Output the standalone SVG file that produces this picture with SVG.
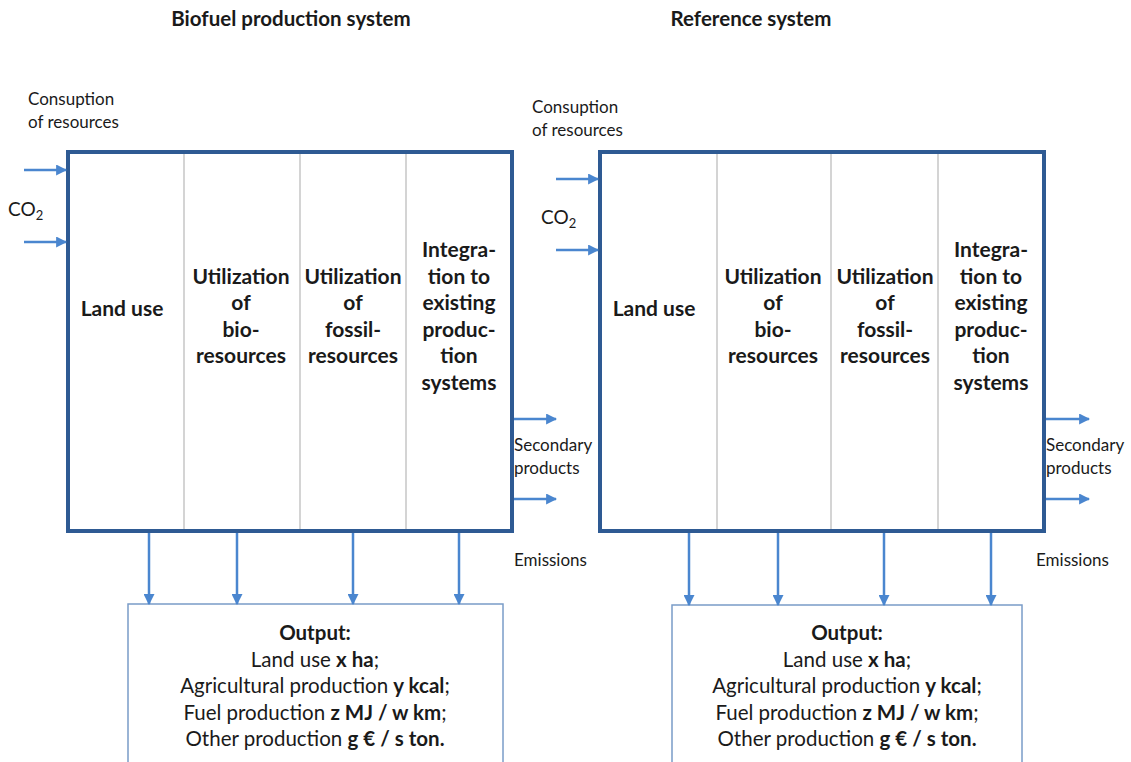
<svg xmlns="http://www.w3.org/2000/svg" width="1131" height="762" viewBox="0 0 1131 762">
  <defs>
    <marker id="ah" viewBox="0 0 10 10" refX="9" refY="5" markerWidth="11" markerHeight="11" markerUnits="userSpaceOnUse" orient="auto">
      <path d="M0,0 L10,5 L0,10 z" fill="#4a86cf"/>
    </marker>
    <style>
      text { font-family: Lato, "Open Sans", "Liberation Sans", sans-serif; fill: #1a1a1a; }
      .title { font-size: 20.5px; font-weight: bold; }
      .lbl { font-size: 17px; }
      .co2 { font-size: 19px; }
      .col { font-size: 21px; font-weight: bold; text-anchor: middle; }
      .out { font-size: 20.5px; text-anchor: middle; }
      .b { font-weight: bold; }
      .frame { fill: #fff; stroke: #2e5a93; stroke-width: 4; }
      .div { stroke: #b8b8b8; stroke-width: 1.2; }
      .obox { fill: #fff; stroke: #7a9cc8; stroke-width: 1.5; }
      .arr { stroke: #4a86cf; stroke-width: 2.5; fill: none; marker-end: url(#ah); }
    </style>
  </defs>

  <rect width="1131" height="762" fill="#fff"/>

  <!-- headings -->
  <text class="title" x="291" y="26" text-anchor="middle">Biofuel production system</text>
  <text class="title" x="751" y="26" text-anchor="middle">Reference system</text>

  <!-- Biofuel system main block -->
  <g id="bio-system">
    <rect class="frame" x="68" y="152" width="444" height="379"/>
    <line class="div" x1="184" y1="154" x2="184" y2="529"/>
    <line class="div" x1="300" y1="154" x2="300" y2="529"/>
    <line class="div" x1="406" y1="154" x2="406" y2="529"/>
    <text class="col" x="122" y="316">Land use</text>
    <text class="col" x="241" y="284">Utilization</text>
    <text class="col" x="241" y="310">of</text>
    <text class="col" x="241" y="337">bio-</text>
    <text class="col" x="241" y="363">resources</text>
    <text class="col" x="353" y="284">Utilization</text>
    <text class="col" x="353" y="310">of</text>
    <text class="col" x="353" y="337">fossil-</text>
    <text class="col" x="353" y="363">resources</text>
    <text class="col" x="459" y="257">Integra-</text>
    <text class="col" x="459" y="284">tion to</text>
    <text class="col" x="459" y="310">existing</text>
    <text class="col" x="459" y="337">produc-</text>
    <text class="col" x="459" y="363">tion</text>
    <text class="col" x="459" y="390">systems</text>
  </g>

  <g id="bio-inputs">
    <text class="lbl" x="28" y="105">Consuption</text>
    <text class="lbl" x="28" y="128">of resources</text>
    <text class="co2" x="8" y="216">CO<tspan font-size="13" dy="4">2</tspan></text>
  </g>

  <g id="bio-side-outputs">
    <text class="lbl" x="514" y="451">Secondary</text>
    <text class="lbl" x="514" y="474">products</text>
    <text class="lbl" x="514" y="566">Emissions</text>
  </g>

  <g id="bio-output">
    <rect class="obox" x="128" y="604" width="375" height="170"/>
    <text class="out b" x="315" y="640">Output:</text>
    <text class="out" x="315" y="667">Land use <tspan class="b">x ha</tspan>;</text>
    <text class="out" x="315" y="693">Agricultural production <tspan class="b">y kcal</tspan>;</text>
    <text class="out" x="315" y="720">Fuel production <tspan class="b">z MJ / w km</tspan>;</text>
    <text class="out" x="315" y="746">Other production <tspan class="b">g € / s ton.</tspan></text>
  </g>

  <!-- Reference system main block -->
  <g id="ref-system">
    <rect class="frame" x="600" y="152" width="444" height="379"/>
    <line class="div" x1="717" y1="154" x2="717" y2="529"/>
    <line class="div" x1="831" y1="154" x2="831" y2="529"/>
    <line class="div" x1="938" y1="154" x2="938" y2="529"/>
    <text class="col" x="654" y="316">Land use</text>
    <text class="col" x="773" y="284">Utilization</text>
    <text class="col" x="773" y="310">of</text>
    <text class="col" x="773" y="337">bio-</text>
    <text class="col" x="773" y="363">resources</text>
    <text class="col" x="885" y="284">Utilization</text>
    <text class="col" x="885" y="310">of</text>
    <text class="col" x="885" y="337">fossil-</text>
    <text class="col" x="885" y="363">resources</text>
    <text class="col" x="991" y="257">Integra-</text>
    <text class="col" x="991" y="284">tion to</text>
    <text class="col" x="991" y="310">existing</text>
    <text class="col" x="991" y="337">produc-</text>
    <text class="col" x="991" y="363">tion</text>
    <text class="col" x="991" y="390">systems</text>
  </g>

  <g id="ref-inputs">
    <text class="lbl" x="532" y="113">Consuption</text>
    <text class="lbl" x="532" y="136">of resources</text>
    <text class="co2" x="541" y="224">CO<tspan font-size="13" dy="4">2</tspan></text>
  </g>

  <g id="ref-side-outputs">
    <text class="lbl" x="1046" y="451">Secondary</text>
    <text class="lbl" x="1046" y="474">products</text>
    <text class="lbl" x="1036" y="566">Emissions</text>
  </g>

  <g id="ref-output">
    <rect class="obox" x="672" y="605" width="350" height="170"/>
    <text class="out b" x="847" y="640">Output:</text>
    <text class="out" x="847" y="667">Land use <tspan class="b">x ha</tspan>;</text>
    <text class="out" x="847" y="693">Agricultural production <tspan class="b">y kcal</tspan>;</text>
    <text class="out" x="847" y="720">Fuel production <tspan class="b">z MJ / w km</tspan>;</text>
    <text class="out" x="847" y="746">Other production <tspan class="b">g € / s ton.</tspan></text>
  </g>

  <!-- connectors -->
  <g id="connectors">
    <line class="arr" x1="24" y1="170" x2="66" y2="170"/>
    <line class="arr" x1="24" y1="242" x2="66" y2="242"/>
    <line class="arr" x1="514" y1="419" x2="556" y2="419"/>
    <line class="arr" x1="514" y1="499" x2="556" y2="499"/>
    <line class="arr" x1="149" y1="533" x2="149" y2="604"/>
    <line class="arr" x1="237" y1="533" x2="237" y2="604"/>
    <line class="arr" x1="353" y1="533" x2="353" y2="604"/>
    <line class="arr" x1="459" y1="533" x2="459" y2="604"/>

    <line class="arr" x1="556" y1="179" x2="598" y2="179"/>
    <line class="arr" x1="556" y1="250" x2="598" y2="250"/>
    <line class="arr" x1="1046" y1="419" x2="1089" y2="419"/>
    <line class="arr" x1="1046" y1="499" x2="1089" y2="499"/>
    <line class="arr" x1="689" y1="533" x2="689" y2="605"/>
    <line class="arr" x1="778" y1="533" x2="778" y2="605"/>
    <line class="arr" x1="884" y1="533" x2="884" y2="605"/>
    <line class="arr" x1="991" y1="533" x2="991" y2="605"/>
  </g>
</svg>
